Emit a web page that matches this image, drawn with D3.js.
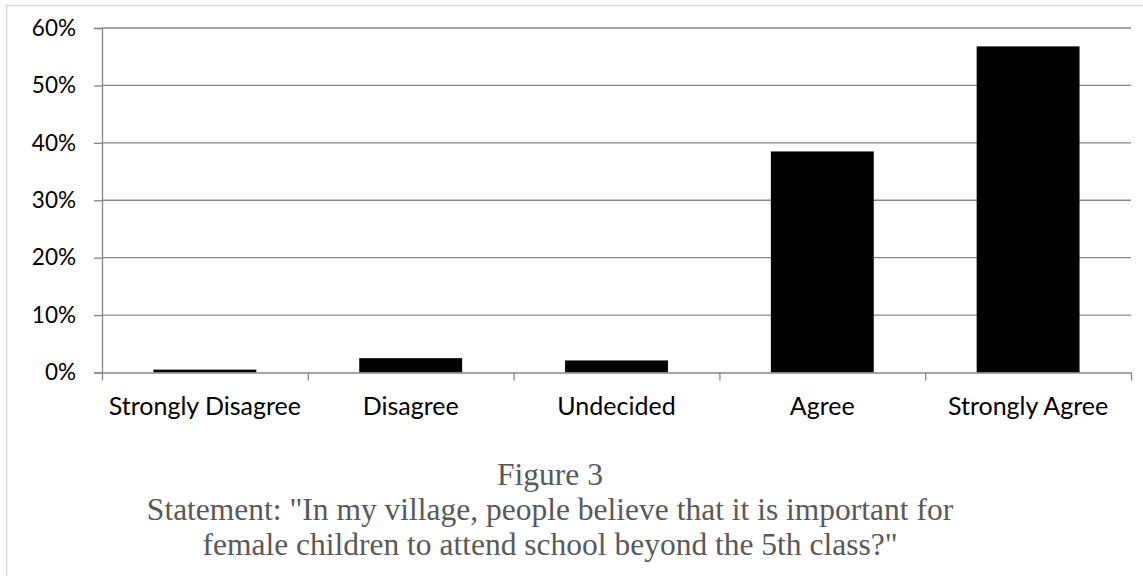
<!DOCTYPE html>
<html><head><meta charset="utf-8">
<script src="https://cdn.jsdelivr.net/npm/d3@7"></script>
<style>body{margin:0;background:#fff}svg{display:block}</style></head>
<body><svg id="c" width="1143" height="576"></svg>
<script>
const categories = ["Strongly Disagree", "Disagree", "Undecided", "Agree", "Strongly Agree"];
const values = [0.005, 0.025, 0.021, 0.385, 0.568];
const yTicks = [0, 0.1, 0.2, 0.3, 0.4, 0.5, 0.6];
const captionLines = [
  "Figure 3",
  "Statement: \"In my village, people believe that it is important for",
  "female children to attend school beyond the 5th class?\""
];

const svg = d3.select("#c");
const L = 102, R = 1131, T = 28, B = 372.5;

svg.append("rect").attr("x", 6.5).attr("y", 5.5).attr("width", 1150).attr("height", 600)
  .attr("fill", "none").attr("stroke", "#d9d9d9").attr("stroke-width", 1.5);

const x = d3.scaleBand().domain(categories).range([L, R]).paddingInner(0.5).paddingOuter(0.25);
const y = d3.scaleLinear().domain([0, 0.6]).range([B, T]);

// gridlines + y axis
const yAxis = d3.axisLeft(y).tickValues(yTicks).tickFormat(d3.format(".0%")).tickSize(8).tickPadding(18);
const gy = svg.append("g").attr("transform", `translate(${L},0)`).call(yAxis);
gy.select(".domain").attr("stroke", "#868686").attr("stroke-width", 1.3);
gy.selectAll(".tick line").attr("stroke", "#868686").attr("stroke-width", 1.3);
gy.selectAll(".tick text").attr("font-family", "Lato, 'Open Sans', sans-serif").attr("font-size", 22.5).attr("fill", "#000");

svg.append("g").selectAll("line").data(yTicks.filter(d => d > 0)).join("line")
  .attr("x1", L).attr("x2", R).attr("y1", d => y(d)).attr("y2", d => y(d))
  .attr("stroke", "#868686").attr("stroke-width", 1.3);

// bars
svg.append("g").selectAll("rect").data(categories).join("rect")
  .attr("x", d => x(d)).attr("width", x.bandwidth())
  .attr("y", (d, i) => y(values[i])).attr("height", (d, i) => B - y(values[i]))
  .attr("fill", "#000");

// x axis with ticks at category boundaries
const xb = d3.scaleLinear().domain([0, categories.length]).range([L, R]);
const gx = svg.append("g").attr("transform", `translate(0,${B})`)
  .call(d3.axisBottom(xb).tickValues(d3.range(categories.length + 1)).tickFormat("").tickSize(8).tickSizeOuter(0));
gx.select(".domain").attr("stroke", "#868686").attr("stroke-width", 1.3);
gx.selectAll(".tick line").attr("stroke", "#868686").attr("stroke-width", 1.3);

svg.append("g").selectAll("text").data(categories).join("text")
  .attr("x", d => x(d) + x.bandwidth() / 2).attr("y", 415)
  .attr("text-anchor", "middle").attr("font-family", "Lato, 'Open Sans', sans-serif")
  .attr("font-size", 25).attr("fill", "#000").text(d => d);

// caption
svg.append("g").selectAll("text").data(captionLines).join("text")
  .attr("x", 550).attr("y", (d, i) => 485 + i * 35)
  .attr("text-anchor", "middle").attr("font-family", "'Liberation Serif', 'Times New Roman', serif")
  .attr("font-size", 31.5).attr("fill", "#595959").text(d => d);
</script></body></html>
